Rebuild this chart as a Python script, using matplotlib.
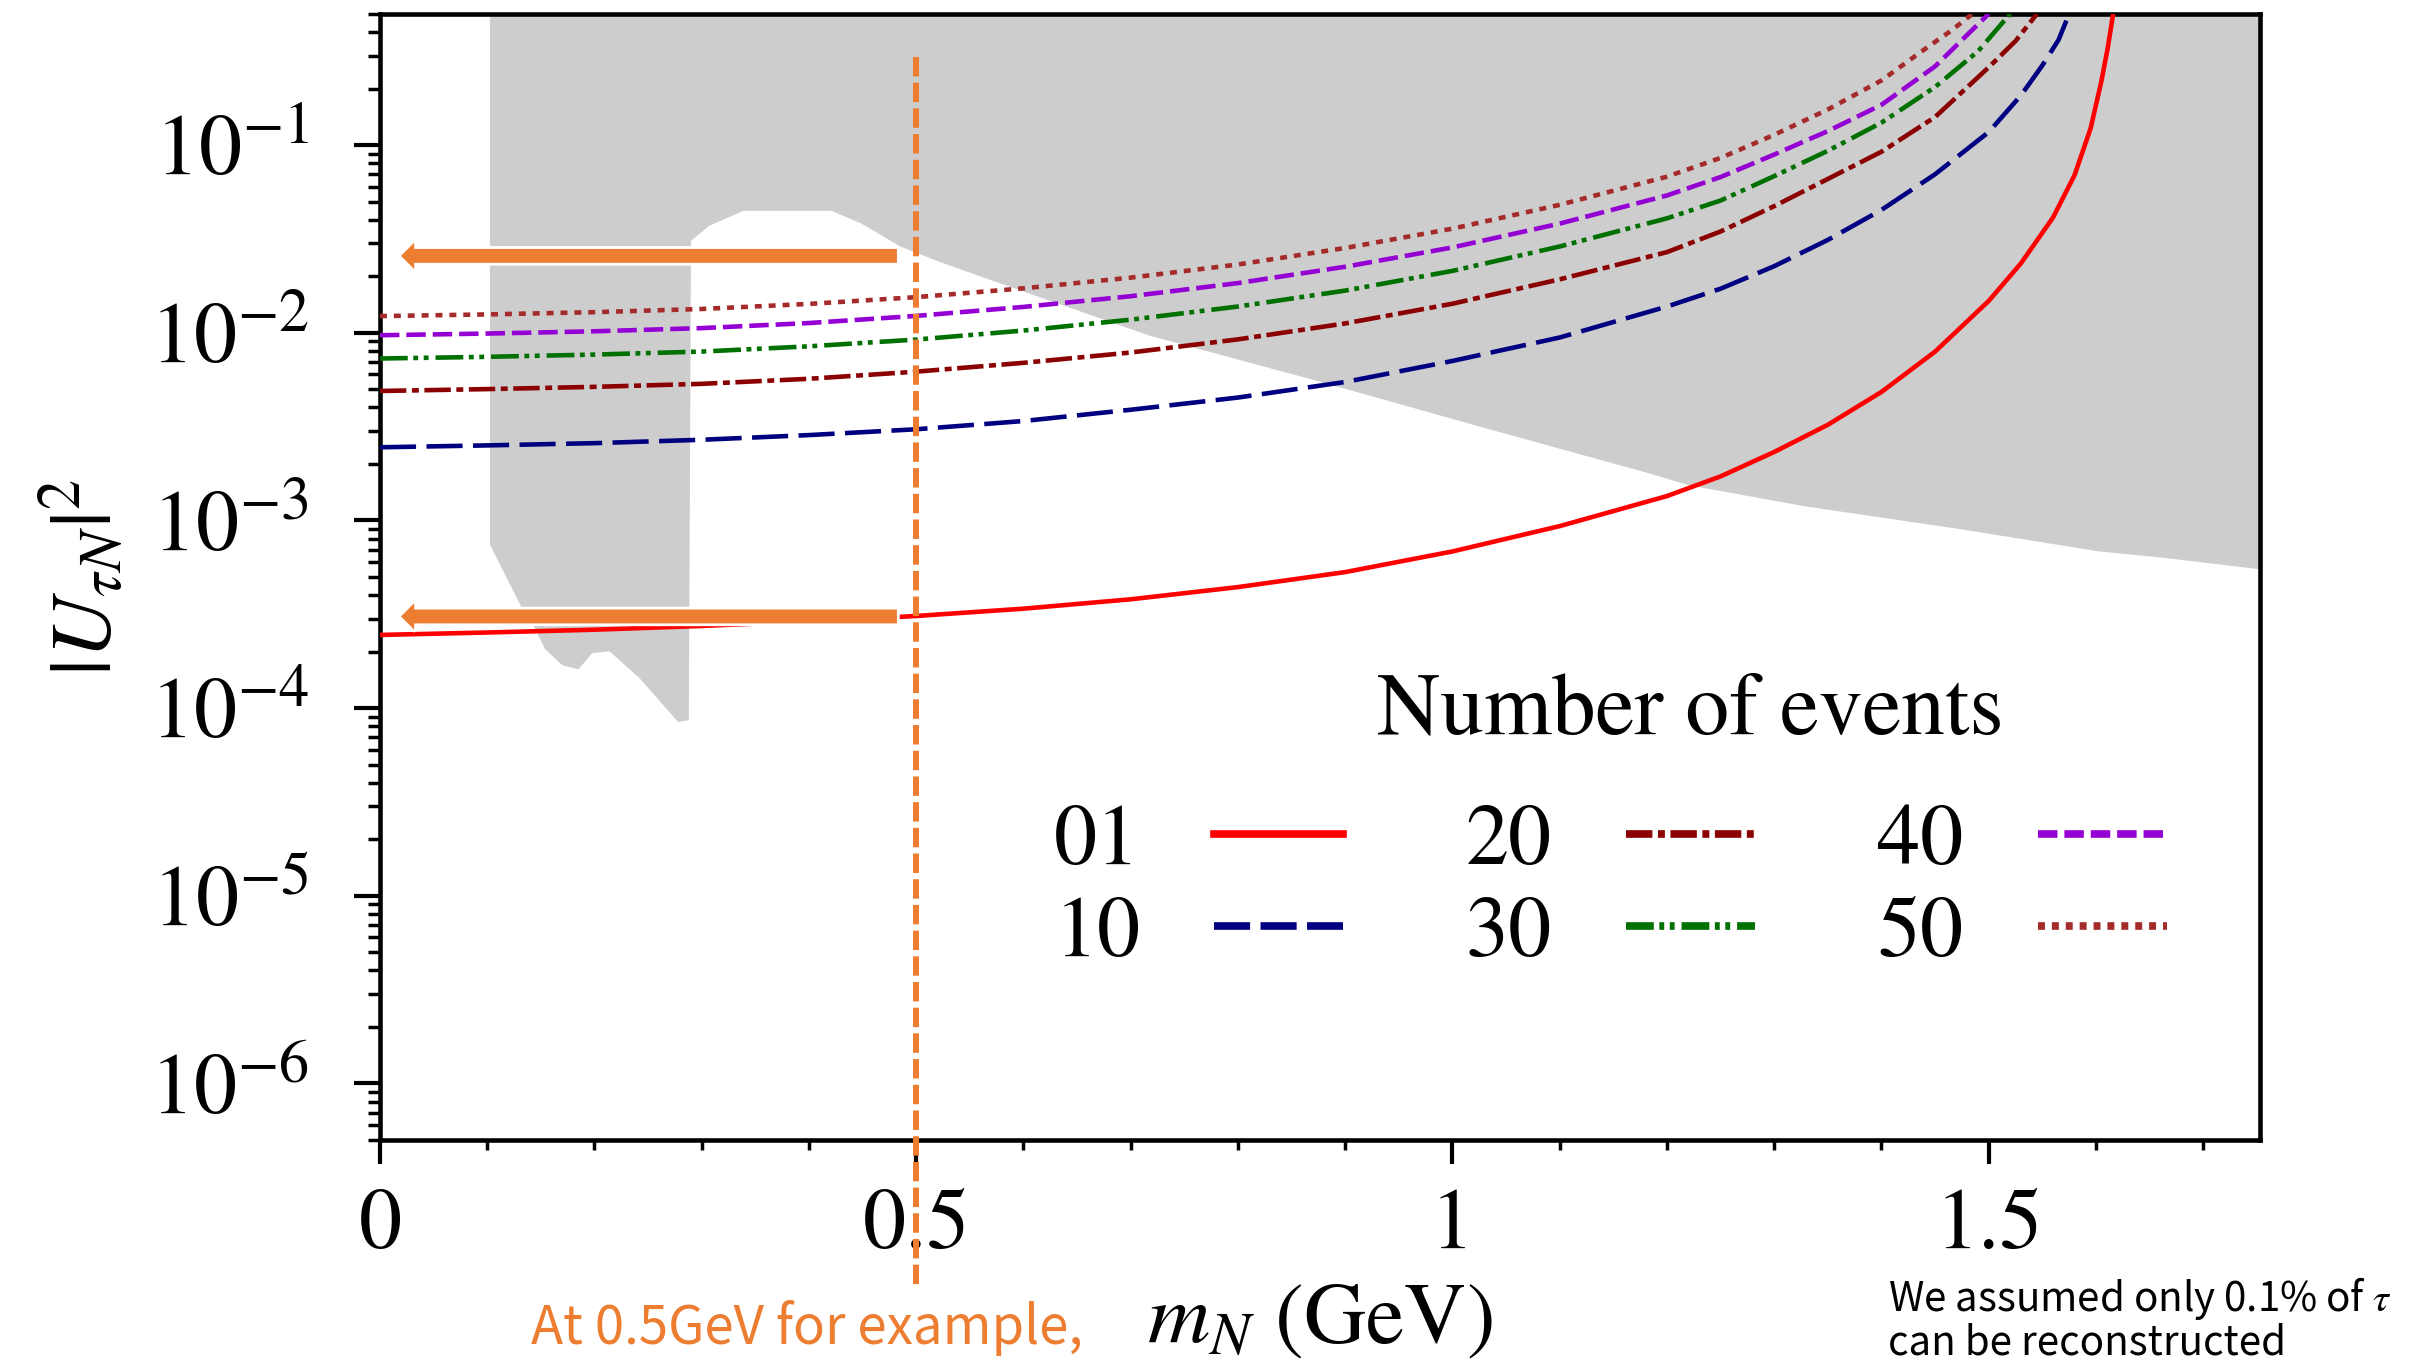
import numpy as np
import matplotlib.pyplot as plt
from matplotlib import ticker, patheffects
from matplotlib.transforms import blended_transform_factory

plt.rcParams['font.family'] = 'STIXGeneral'
plt.rcParams['mathtext.fontset'] = 'stix'
plt.rcParams['lines.scale_dashes'] = False

# values, y given as log10(|U|^2)
mass_01 = [0.0, 0.1, 0.2, 0.3, 0.4, 0.5, 0.6, 0.7, 0.8, 0.9, 1.0, 1.1, 1.2, 1.25, 1.3,
           1.35, 1.4, 1.45, 1.5, 1.53, 1.56, 1.58, 1.595, 1.605, 1.611, 1.616]
logu_01 = [-3.610, -3.597, -3.582, -3.562, -3.538, -3.509, -3.470, -3.420, -3.355, -3.275,
           -3.165, -3.030, -2.870, -2.765, -2.635, -2.490, -2.315, -2.100, -1.830, -1.630,
           -1.385, -1.160, -0.910, -0.660, -0.480, -0.300]

mass_10 = [0.0, 0.1, 0.2, 0.3, 0.4, 0.5, 0.6, 0.7, 0.8, 0.9, 1.0, 1.1, 1.2, 1.25, 1.3,
           1.35, 1.4, 1.45, 1.5, 1.53, 1.55, 1.565, 1.575]
logu_10 = [-2.610, -2.600, -2.588, -2.570, -2.545, -2.514, -2.470, -2.410, -2.345, -2.262,
           -2.150, -2.025, -1.860, -1.765, -1.645, -1.505, -1.345, -1.155, -0.930, -0.735,
           -0.575, -0.440, -0.300]

mass_20 = [0.0, 0.1, 0.2, 0.3, 0.4, 0.5, 0.6, 0.7, 0.8, 0.9, 1.0, 1.1, 1.2, 1.25, 1.3,
           1.35, 1.4, 1.45, 1.5, 1.525, 1.545]
logu_20 = [-2.310, -2.300, -2.288, -2.272, -2.245, -2.207, -2.160, -2.105, -2.035, -1.950,
           -1.845, -1.715, -1.570, -1.460, -1.325, -1.180, -1.035, -0.850, -0.585, -0.445,
           -0.300]

mass_30 = [0.0, 0.1, 0.2, 0.3, 0.4, 0.5, 0.6, 0.7, 0.8, 0.9, 1.0, 1.1, 1.2, 1.25, 1.3,
           1.35, 1.4, 1.45, 1.49, 1.52]
logu_30 = [-2.137, -2.128, -2.116, -2.100, -2.072, -2.036, -1.988, -1.930, -1.860, -1.775,
           -1.670, -1.540, -1.390, -1.295, -1.165, -1.030, -0.880, -0.690, -0.500, -0.300]

mass_40 = [0.0, 0.1, 0.2, 0.3, 0.4, 0.5, 0.6, 0.7, 0.8, 0.9, 1.0, 1.1, 1.2, 1.25, 1.3,
           1.35, 1.4, 1.45, 1.475, 1.50]
logu_40 = [-2.013, -2.004, -1.992, -1.975, -1.948, -1.910, -1.862, -1.805, -1.735, -1.648,
           -1.545, -1.418, -1.268, -1.170, -1.050, -0.925, -0.785, -0.580, -0.440, -0.300]

mass_50 = [0.0, 0.1, 0.2, 0.3, 0.4, 0.5, 0.6, 0.7, 0.8, 0.9, 1.0, 1.1, 1.2, 1.25, 1.3,
           1.35, 1.4, 1.44, 1.465, 1.485]
logu_50 = [-1.911, -1.902, -1.890, -1.873, -1.846, -1.810, -1.763, -1.706, -1.636, -1.548,
           -1.445, -1.318, -1.168, -1.068, -0.945, -0.810, -0.655, -0.490, -0.390, -0.300]

# excluded (grey) region outline
excl_mass = [0.1025, 0.1025, 0.132, 0.143, 0.154, 0.170, 0.185, 0.198, 0.214, 0.242, 0.278,
             0.288, 0.290, 0.307, 0.339, 0.421, 0.449, 0.485, 0.521, 0.560, 0.718, 0.873,
             1.028, 1.184, 1.220, 1.329, 1.472, 1.603, 1.665, 1.76, 1.76]
excl_logu = [0.2, -3.128, -3.463, -3.559, -3.686, -3.771, -3.793, -3.707, -3.697, -3.840, -4.074,
             -4.064, -1.510, -1.430, -1.350, -1.350, -1.418, -1.540, -1.620, -1.700, -2.016, -2.255,
             -2.504, -2.750, -2.812, -2.925, -3.045, -3.165, -3.200, -3.265, 0.2]

example_mass = 0.5
arrow_levels = [2.57e-2, 3.08e-4]
arrow_from, arrow_to = 0.482, 0.0196

series = [
    ('01', mass_01, logu_01, '#ff0000', '-'),
    ('10', mass_10, logu_10, '#000080', (0, (26, 7.5))),
    ('20', mass_20, logu_20, '#8b0000', (0, (19, 4, 5, 4))),
    ('30', mass_30, logu_30, '#007000', (0, (20, 4, 3.5, 4, 3.5, 5))),
    ('40', mass_40, logu_40, '#9400d3', (0, (14, 5))),
    ('50', mass_50, logu_50, '#a52a2a', (0, (5, 5))),
]

fig = plt.figure(figsize=(24.31, 13.69), dpi=100)
ax = fig.add_axes([0.1563, 0.1673, 0.7734, 0.8225])

ax.fill(excl_mass, 10.0 ** np.array(excl_logu), color='#cdcdcd', lw=0, zorder=1)

lines = []
for lab, m, lu, col, ls in series:
    ln, = ax.plot(m, 10.0 ** np.array(lu), color=col, ls=ls, lw=3.3, label=lab, zorder=3)
    lines.append(ln)

ax.set_yscale('log')
ax.set_xlim(0, 1.753)
ax.set_ylim(5e-7, 0.5)

ax.xaxis.set_major_locator(ticker.FixedLocator([0, 0.5, 1, 1.5]))
ax.xaxis.set_major_formatter(ticker.FixedFormatter(['0', '0.5', '1', '1.5']))
ax.xaxis.set_minor_locator(ticker.MultipleLocator(0.1))
ax.yaxis.set_major_locator(ticker.LogLocator(base=10, numticks=20))
ax.yaxis.set_minor_locator(ticker.LogLocator(base=10, subs=np.arange(2, 10), numticks=20))
ax.yaxis.set_minor_formatter(ticker.NullFormatter())

ax.tick_params(which='both', direction='out', top=False, right=False)
ax.tick_params(axis='y', which='major', length=19, width=3, pad=32, labelsize=62)
ax.tick_params(axis='y', which='minor', length=8.5, width=2.5)
ax.tick_params(axis='x', which='major', length=17, width=3, pad=18, labelsize=62)
ax.tick_params(axis='x', which='minor', length=7, width=2.5)
for sp in ax.spines.values():
    sp.set_linewidth(3.3)

ax.set_ylabel(r'$|U_{\tau N}|^2$', fontsize=62, va='center')
ax.yaxis.set_label_coords(-0.157, 0.5)
ax.set_xlabel(r'$m_N$ (GeV)', fontsize=62, va='center')
ax.xaxis.set_label_coords(0.5, -0.162)

# legend: label first, then line sample
leg = ax.legend(handles=lines, ncol=3, markerfirst=False, frameon=False,
                fontsize=62, handlelength=1.5, handletextpad=0.86, columnspacing=1.42,
                labelspacing=0.15, borderpad=0, borderaxespad=0,
                loc='upper left', bbox_to_anchor=(0.4336, 0.4128),
                bbox_transform=fig.transFigure)
for hl in leg.get_lines():
    hl.set_linewidth(5.5)
fig.text(0.6952, 0.4795, 'Number of events', fontsize=63, ha='center', va='center')

# orange annotations
orange = '#ED7D31'
for lvl in arrow_levels:
    ax.annotate('', xy=(arrow_to, lvl), xytext=(arrow_from, lvl),
                arrowprops=dict(arrowstyle='simple,head_length=0.95,head_width=1.9,tail_width=1.0',
                                mutation_scale=10, fc=orange, ec='none', shrinkA=0, shrinkB=0,
                                path_effects=[patheffects.Stroke(linewidth=4, foreground='white'),
                                              patheffects.Normal()]),
                zorder=5)

trans = blended_transform_factory(ax.transData, fig.transFigure)
ax.plot([example_mass, example_mass], [0.958, 0.060], transform=trans, color=orange,
        lw=4.3, ls=(0, (14, 4.5)), clip_on=False, zorder=6)

fig.text(0.4455, 0.030, 'At 0.5GeV for example,', color=orange, fontsize=38,
         family=['Noto Sans CJK KR', 'DejaVu Sans'], ha='right', va='center')
fig.text(0.7766, 0.0365, 'We assumed only 0.1% of $\\tau$\ncan be reconstructed', color='black',
         fontsize=29, family=['Noto Sans CJK KR', 'DejaVu Sans'], ha='left', va='center',
         linespacing=1.0)

fig.savefig('out.png', dpi=100)
